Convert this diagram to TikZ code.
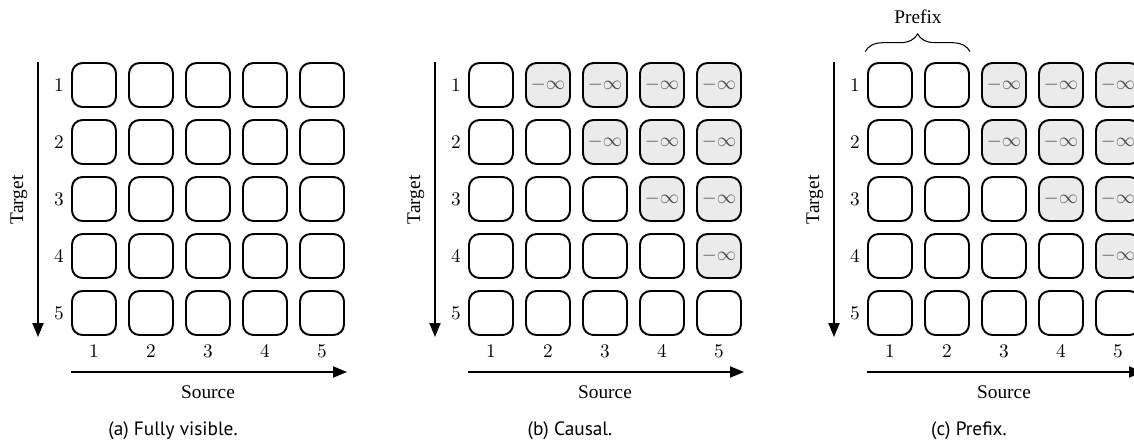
\documentclass[tikz,border=0pt]{standalone}
\usepackage{fontspec}
\setmainfont{Liberation Serif}
\setsansfont{PT Sans}
\usepackage{tikz}
\usepackage{xcolor}
\usetikzlibrary{
    arrows.meta,
    positioning,
    decorations.pathreplacing
}
\definecolor{masked}{HTML}{EBEBEB}
\definecolor{maskedtext}{HTML}{4A4A4A}
\tikzset{
    % Attention cell style
    cell/.style={
        rectangle,
        rounded corners=6pt,
        minimum width=0.88cm,
        minimum height=0.88cm,
        inner sep=0pt,
        draw=black,
        fill=white,
        line width=1.1pt,
        font=\fontsize{10.5}{12}\selectfont
    },
    % Masked cell style
    masked cell/.style={
        cell,
        fill=masked,
        text=maskedtext
    },
    % Index label style
    index/.style={
        font=\fontsize{10.5}{12}\selectfont,
        inner sep=2pt
    },
    % Axis arrow style
    axis/.style={
        -{Triangle[length=2.8mm, width=2.2mm]},
        line width=1.1pt
    },
    % Text styles
    axis label/.style={
        font=\fontsize{11}{13}\selectfont
    },
    caption/.style={
        font=\fontsize{11}{13}\selectfont\sffamily
    },
    prefix brace/.style={
        decorate,
        decoration={brace, amplitude=10pt},
        line width=0.6pt
    }
}

\begin{document}
\begin{tikzpicture}[x=0.02cm, y=-0.02cm]
    \useasboundingbox (0,0) rectangle (1134,447);
    \clip (0,0) rectangle (1134,447);

    % One panel per mask: name / shift / prefix length / caption
    \foreach \p/\dx/\pre/\txt in {a/0/6/Fully visible., b/397/0/Causal., c/796/2/Prefix.}{
        % Cells
        \foreach \row in {1,...,5}{
            \foreach \col in {1,...,5}{
                \pgfmathtruncatemacro{\hide}{and(\col>\row, \col>\pre)}
                \ifnum\hide=1
                    \node[masked cell] (\p-\row-\col) at ({\dx+94+57*(\col-1)}, {85+57*(\row-1)}) {$-\infty$};
                \else
                    \node[cell] (\p-\row-\col) at ({\dx+94+57*(\col-1)}, {85+57*(\row-1)}) {};
                \fi
            }
        }
        % Indices
        \foreach \k in {1,...,5}{
            \node[index, left=2pt of \p-\k-1] (\p-r\k) {$\k$};
            \node[index, below=3pt of \p-5-\k] (\p-c\k) {$\k$};
        }
        % Axes
        \coordinate (\p-ttop) at ({\dx+38}, 62);
        \coordinate (\p-tbot) at ({\dx+38}, 337);
        \draw[axis] (\p-ttop) -- (\p-tbot);
        \node[axis label, rotate=90] (\p-target) at ({\dx+19}, 200) {Target};
        \coordinate (\p-sleft) at ({\dx+71}, 372);
        \coordinate (\p-sright) at ({\dx+347}, 372);
        \draw[axis] (\p-sleft) -- (\p-sright);
        \node[axis label] (\p-source) at ({\dx+208}, 392) {Source};
        % Caption
        \node[caption] (\p-cap) at ({\dx+173}, 431) {(\p) \txt};
    }

    % Prefix brace
    \draw[prefix brace] ([xshift=-1pt, yshift=6pt]c-1-1.north west) -- ([yshift=6pt]c-1-2.north east);
    \node[axis label] (prefix) at (918, 17) {Prefix};

\end{tikzpicture}
\end{document}
